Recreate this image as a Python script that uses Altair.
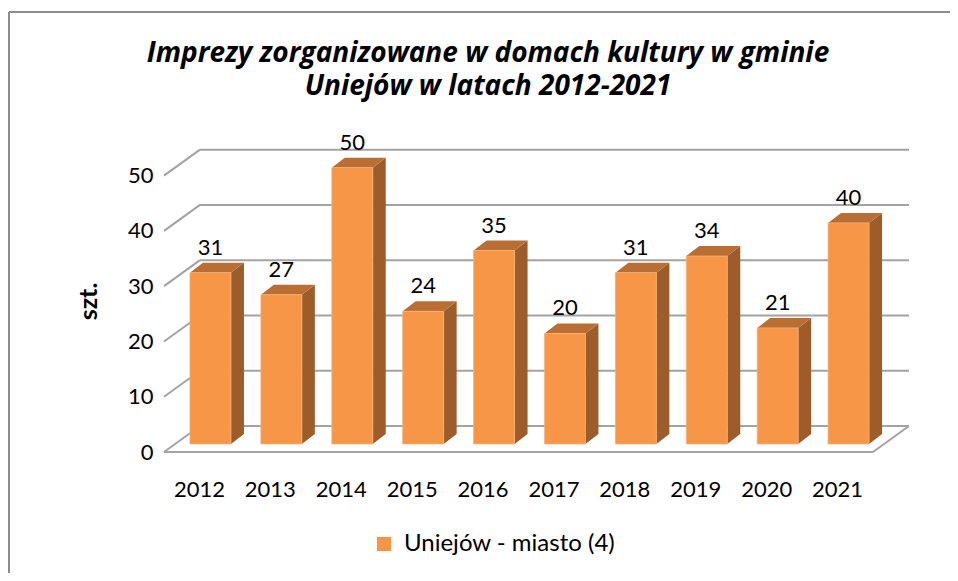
import altair as alt
import pandas as pd

# ---- data ----
years = ["2012", "2013", "2014", "2015", "2016", "2017", "2018", "2019", "2020", "2021"]
values = [31, 27, 50, 24, 35, 20, 31, 34, 21, 40]
series_name = "Uniejów - miasto (4)"
y_ticks = [0, 10, 20, 30, 40, 50]
title_lines = ["Imprezy zorganizowane w domach kultury w gminie", "Uniejów w latach 2012-2021"]
y_title = "szt."

# ---- style / pseudo-3D projection (pixels) ----
FONT = "Lato"
TITLE_FONT = "Open Sans"
W, H = 745, 304
CAT_PX = 70.9
Y_MAX = 55
PX_Y = H / Y_MAX
WALL_DX, WALL_DY = 36, 26      # back wall offset
BAR_DX, BAR_DY = 11, 8         # bar front face offset from front plane
DEP_DX, DEP_DY = 13, 10        # bar depth
BAR_W = 41
FRONT = "#F79646"
SIDE = "#9C5D2B"
TOP = "#B96E33"
GRID = "#A3A3A3"


def ux(px):
    return px / CAT_PX


def uy(px):
    return px / PX_Y


n = len(years)
xs = alt.Scale(domain=[0, W / CAT_PX], nice=False, zero=False)
ys = alt.Scale(domain=[0, Y_MAX], nice=False, zero=False)
yaxis = alt.Axis(
    values=y_ticks, domain=False, ticks=False, grid=False,
    labelFont=FONT, labelFontSize=22, labelColor="black", labelPadding=11,
    title=y_title, titleFont=FONT, titleFontSize=25, titleFontWeight="bold",
    titleColor="black", titleX=-76, titleY=153, titleBaseline="middle",
    titleAlign="center", titleAngle=270)

# gridlines (front-left diagonal + back wall line) and floor edges
grid_rows = []
for t in y_ticks:
    grid_rows.append(dict(x=0.0, y=t, x2=ux(WALL_DX), y2=t + uy(WALL_DY)))
    grid_rows.append(dict(x=ux(WALL_DX), y=t + uy(WALL_DY), x2=n + ux(WALL_DX), y2=t + uy(WALL_DY)))
grid_rows.append(dict(x=0.0, y=0.0, x2=float(n), y2=0.0))
grid_rows.append(dict(x=float(n), y=0.0, x2=n + ux(WALL_DX), y2=uy(WALL_DY)))
grid_df = pd.DataFrame(grid_rows)

bars = []
side_rows = []
top_rows = []
for i, (yr, v) in enumerate(zip(years, values)):
    xl = i + 0.5 + ux(BAR_DX) - ux(BAR_W / 2)
    xr = xl + ux(BAR_W)
    y0 = uy(BAR_DY)
    y1 = v + uy(BAR_DY)
    bars.append(dict(year=yr, value=v, xl=xl, xr=xr, xc=(xl + xr) / 2, y0=y0, y1=y1,
                     xcat=i + 0.5, zero=0.0, series=series_name))
    side_rows.append(dict(year=yr, x=xr, lo=y0, hi=y1))
    side_rows.append(dict(year=yr, x=xr + ux(DEP_DX), lo=y0 + uy(DEP_DY), hi=y1 + uy(DEP_DY)))
    top_rows.append(dict(year=yr, y=y1, a=xl, b=xr))
    top_rows.append(dict(year=yr, y=y1 + uy(DEP_DY), a=xl + ux(DEP_DX), b=xr + ux(DEP_DX)))
bars_df = pd.DataFrame(bars)
side_df = pd.DataFrame(side_rows)
top_df = pd.DataFrame(top_rows)

grid = alt.Chart(grid_df).mark_rule(color=GRID, strokeWidth=2).encode(
    x=alt.X("x:Q", scale=xs, axis=None),
    x2="x2:Q",
    y=alt.Y("y:Q", scale=ys, axis=yaxis),
    y2="y2:Q",
)

side = alt.Chart(side_df).mark_area(color=SIDE, orient="vertical").encode(
    x=alt.X("x:Q", scale=xs, axis=None),
    y=alt.Y("lo:Q", scale=ys, axis=yaxis, stack=None),
    y2="hi:Q",
    detail="year:N",
)

top = alt.Chart(top_df).mark_area(color=TOP, orient="horizontal").encode(
    y=alt.Y("y:Q", scale=ys, axis=yaxis),
    x=alt.X("a:Q", scale=xs, axis=None, stack=None),
    x2="b:Q",
    detail="year:N",
)

front = alt.Chart(bars_df).mark_rect(stroke="#FAB27A", strokeWidth=0.8).encode(
    x=alt.X("xl:Q", scale=xs, axis=None),
    x2="xr:Q",
    y=alt.Y("y0:Q", scale=ys, axis=yaxis),
    y2="y1:Q",
    color=alt.Color("series:N", scale=alt.Scale(domain=[series_name], range=[FRONT]),
                    legend=alt.Legend(orient="none", legendX=208, legendY=384, title=None,
                                      symbolType="square", symbolSize=196, symbolStrokeWidth=0,
                                      labelFont=FONT, labelFontSize=24, labelColor="black",
                                      labelOffset=8, labelLimit=0, padding=0)),
)

data_labels = alt.Chart(bars_df).mark_text(
    font=FONT, fontSize=22, color="black", baseline="alphabetic", dy=-18
).encode(
    x=alt.X("xc:Q", scale=xs, axis=None),
    y=alt.Y("y1:Q", scale=ys, axis=yaxis),
    text="value:Q",
)

year_labels = alt.Chart(bars_df).mark_text(
    font=FONT, fontSize=22, color="black", baseline="middle", dy=38
).encode(
    x=alt.X("xcat:Q", scale=xs, axis=None),
    y=alt.Y("zero:Q", scale=ys, axis=yaxis),
    text="year:N",
)

frame_df = pd.DataFrame([dict(k=1)])
frame_top = alt.Chart(frame_df).mark_rule(color="#8C8C8C", strokeWidth=2).encode(
    x=alt.value(-155), x2=alt.value(790), y=alt.value(-136), y2=alt.value(-136))
frame_left = alt.Chart(frame_df).mark_rule(color="#8C8C8C", strokeWidth=2).encode(
    x=alt.value(-155), x2=alt.value(-155), y=alt.value(-136), y2=alt.value(425))

title_df = pd.DataFrame([dict(k=1)])
title_marks = [
    alt.Chart(title_df).mark_text(
        font=TITLE_FONT, fontSize=28, fontStyle="italic", fontWeight="bold", color="black",
        align="center", baseline="alphabetic"
    ).encode(x=alt.value(324), y=alt.value(-86 + 33 * j), text=alt.value(line))
    for j, line in enumerate(title_lines)
]

chart = alt.layer(
    frame_top, frame_left, grid, side, top, front, data_labels, year_labels, *title_marks
).properties(
    width=W, height=H,
    autosize=alt.AutoSizeParams(type="none"),
    padding={"left": 156, "top": 140, "right": 41, "bottom": 121},
).configure_view(stroke=None)

chart.save("out.html", embed_options={"renderer": "svg", "actions": False})
